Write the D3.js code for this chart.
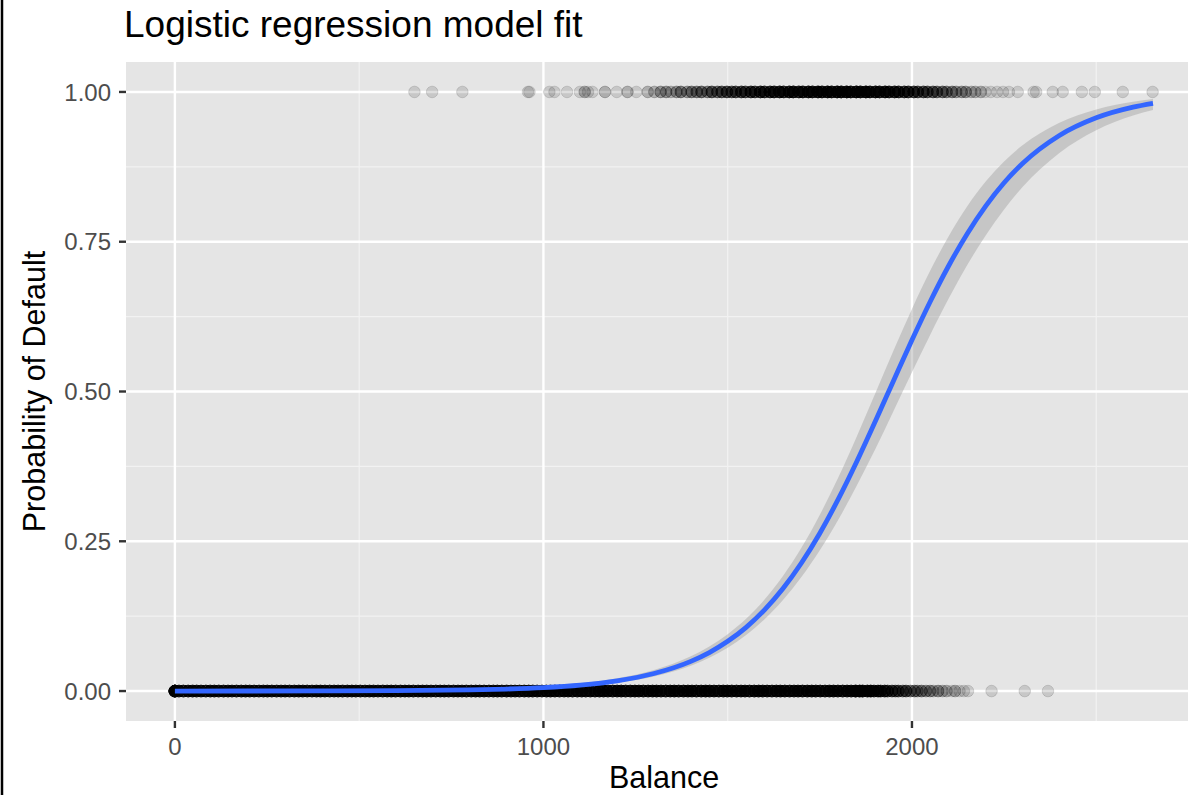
<!DOCTYPE html>
<html>
<head>
<meta charset="utf-8">
<script src="https://cdn.jsdelivr.net/npm/d3@7"></script>
<style>
  html, body { margin: 0; padding: 0; background: #fff; }
  svg { display: block; font-family: "Liberation Sans", Arial, Helvetica, sans-serif; }
</style>
</head>
<body>
<svg id="chart" width="1188" height="795"></svg>
<script>
// Observed balances of customers who defaulted (y = 1) and how many share each value
const defaultBalance = [650, 698, 780, 958, 962, 1016, 1030, 1064, 1099, 1112, 1121, 1133, 1167, 1199, 1228, 1252, 1283,
  1301, 1318, 1333, 1346, 1361, 1373, 1390, 1402, 1416, 1429, 1445, 1457, 1472, 1484, 1498, 1511, 1522, 1537, 1548,
  1563, 1574, 1589, 1600, 1615, 1626, 1641, 1652, 1667, 1678, 1693, 1704, 1719, 1730, 1745, 1756, 1771, 1782, 1797,
  1808, 1823, 1834, 1849, 1860, 1875, 1886, 1901, 1912, 1927, 1938, 1953, 1964, 1979, 1990, 2005, 2016, 2031, 2042,
  2057, 2068, 2083, 2094, 2109, 2120, 2135, 2146, 2161, 2172, 2187, 2199, 2214, 2231, 2247, 2263, 2287, 2330, 2337,
  2382, 2409, 2461, 2496, 2572, 2653];
const defaultCount = [1, 1, 1, 1, 1, 1, 1, 1, 1, 2, 1, 1, 2, 1, 2, 1, 2,
  2, 3, 3, 2, 3, 4, 3, 4, 4, 5, 4, 6, 5, 6, 7, 6, 7, 8, 7,
  9, 8, 10, 9, 10, 11, 12, 10, 12, 13, 11, 12, 13, 12, 14, 13, 14, 13, 15,
  14, 15, 13, 15, 14, 15, 13, 13, 12, 13, 11, 11, 10, 9, 9, 8, 7, 7, 6,
  6, 5, 5, 4, 4, 3, 3, 3, 2, 2, 2, 1, 1, 1, 1, 1, 1, 1, 1,
  1, 1, 1, 1, 1, 1];

// Observed balances of customers who did not default (y = 0) and their counts
const nonDefaultBalance = [0, 11, 23, 36, 48, 59, 71, 84, 96, 107, 119, 132, 144, 155, 167, 180, 192, 203, 215, 228,
  240, 251, 263, 276, 288, 299, 311, 324, 336, 347, 359, 372, 384, 395, 407, 420, 432, 443, 455, 468, 480, 491, 503,
  516, 528, 539, 551, 564, 576, 587, 599, 612, 624, 635, 647, 660, 672, 683, 695, 708, 720, 731, 743, 756, 768, 779,
  791, 804, 816, 827, 839, 852, 864, 875, 887, 900, 912, 923, 935, 948, 960, 971, 983, 996, 1008, 1019, 1031, 1044,
  1056, 1067, 1079, 1092, 1104, 1115, 1127, 1140, 1152, 1163, 1175, 1188, 1200, 1211, 1223, 1236, 1248, 1259, 1271,
  1284, 1296, 1307, 1319, 1332, 1344, 1355, 1367, 1380, 1392, 1403, 1415, 1428, 1440, 1451, 1463, 1476, 1488, 1499,
  1511, 1524, 1536, 1547, 1559, 1572, 1584, 1595, 1607, 1620, 1632, 1643, 1655, 1668, 1680, 1691, 1703, 1716, 1728,
  1739, 1751, 1764, 1776, 1787, 1799, 1812, 1824, 1835, 1847, 1858, 1866, 1879, 1888, 1897, 1908, 1915, 1926, 1934,
  1946, 1955, 1963, 1975, 1984, 1996, 2007, 2015, 2026, 2038, 2049, 2058, 2071, 2083, 2094, 2108, 2117, 2129, 2141,
  2152, 2216, 2306, 2369, 2388];
const nonDefaultCount = [40, 12, 12, 12, 12, 12, 12, 12, 12, 12, 12, 12, 12, 12, 12, 12, 12, 12, 12, 12,
  12, 12, 12, 12, 12, 12, 12, 12, 12, 12, 12, 12, 12, 12, 12, 12, 12, 12, 12, 12, 12, 12, 12,
  12, 12, 12, 12, 12, 12, 12, 12, 12, 12, 12, 12, 12, 12, 12, 12, 12, 12, 12, 12, 12, 12, 12,
  12, 12, 12, 12, 12, 12, 12, 12, 12, 12, 12, 12, 12, 12, 12, 12, 12, 12, 12, 12, 12, 12,
  12, 12, 12, 12, 12, 12, 12, 12, 12, 12, 12, 12, 12, 12, 12, 12, 12, 12, 12,
  12, 12, 12, 12, 12, 12, 12, 12, 12, 12, 12, 12, 12, 12, 12, 12, 12, 12, 12,
  12, 12, 12, 12, 12, 12, 12, 12, 12, 12, 12, 12, 12, 12, 12, 12, 12, 12, 12,
  12, 12, 12, 12, 12, 12, 12, 12, 12, 16, 14, 14, 12, 12, 10, 10, 8, 9,
  7, 7, 5, 6, 5, 6, 4, 4, 3, 4, 3, 3, 2, 3, 2, 2, 1, 2, 1,
  1, 1, 1, 1, 1];

// Fitted logistic curve with its 95% confidence band
const curveBalance = [0, 200, 400, 600, 800, 900, 1000, 1100, 1200, 1300, 1400, 1450, 1500, 1550, 1600, 1650, 1700,
  1750, 1800, 1850, 1900, 1950, 2000, 2050, 2100, 2150, 2200, 2250, 2300, 2400, 2500, 2600, 2654];
const fitProb = [0.000024, 0.000071, 0.000213, 0.00064, 0.00192, 0.00333, 0.00576, 0.00993, 0.01709, 0.02926, 0.0496,
  0.0643, 0.0830, 0.1064, 0.1356, 0.1711, 0.2137, 0.2635, 0.3202, 0.3827, 0.4494, 0.5180, 0.5859, 0.6507, 0.7103,
  0.7635, 0.8095, 0.8484, 0.8805, 0.9273, 0.9568, 0.9746, 0.9810];
const lowerProb = [0.000012, 0.000038, 0.000124, 0.000406, 0.00132, 0.00238, 0.00428, 0.00767, 0.01369, 0.02425,
  0.04231, 0.0555, 0.0723, 0.0936, 0.1199, 0.1520, 0.1903, 0.2349, 0.2859, 0.3427, 0.4031, 0.4673, 0.5320, 0.5953,
  0.6555, 0.7110, 0.7606, 0.8040, 0.8413, 0.8982, 0.9362, 0.9607, 0.9699];
const upperProb = [0.000048, 0.000133, 0.000366, 0.00101, 0.00280, 0.00465, 0.00774, 0.01284, 0.02132, 0.03527,
  0.05805, 0.0743, 0.0950, 0.1207, 0.1528, 0.1921, 0.2390, 0.2943, 0.3564, 0.4246, 0.4963, 0.5683, 0.6378, 0.7022,
  0.7597, 0.8091, 0.8504, 0.8841, 0.9110, 0.9486, 0.9709, 0.9836, 0.9881];

// Axis breaks
const xTicks = [0, 1000, 2000];
const xMinor = [500, 1500, 2500];
const yTicks = [0, 0.25, 0.5, 0.75, 1];
const yMinor = [0.125, 0.375, 0.625, 0.875];
const yTickLabels = ["0.00", "0.25", "0.50", "0.75", "1.00"];

const svg = d3.select("#chart");
const W = 1188, H = 795;
const panel = { left: 126, top: 62, right: 1202, bottom: 721 };

const x = d3.scaleLinear().domain([-132.7, 2787]).range([panel.left, panel.right]);
const y = d3.scaleLinear().domain([-0.05, 1.05]).range([panel.bottom, panel.top]);

svg.append("rect").attr("width", W).attr("height", H).attr("fill", "#ffffff");

svg.append("clipPath").attr("id", "panelClip").append("rect")
  .attr("x", panel.left).attr("y", panel.top)
  .attr("width", panel.right - panel.left).attr("height", panel.bottom - panel.top);

const plot = svg.append("g").attr("clip-path", "url(#panelClip)");

// panel background
plot.append("rect")
  .attr("x", panel.left).attr("y", panel.top)
  .attr("width", panel.right - panel.left).attr("height", panel.bottom - panel.top)
  .attr("fill", "#e5e5e5");

// minor grid
plot.selectAll(".xminor").data(xMinor).join("line")
  .attr("x1", d => x(d)).attr("x2", d => x(d)).attr("y1", panel.top).attr("y2", panel.bottom)
  .attr("stroke", "#f2f2f2").attr("stroke-width", 1.2);
plot.selectAll(".yminor").data(yMinor).join("line")
  .attr("y1", d => y(d)).attr("y2", d => y(d)).attr("x1", panel.left).attr("x2", panel.right)
  .attr("stroke", "#f2f2f2").attr("stroke-width", 1.2);
// major grid
plot.selectAll(".xmajor").data(xTicks).join("line")
  .attr("x1", d => x(d)).attr("x2", d => x(d)).attr("y1", panel.top).attr("y2", panel.bottom)
  .attr("stroke", "#ffffff").attr("stroke-width", 2.4);
plot.selectAll(".ymajor").data(yTicks).join("line")
  .attr("y1", d => y(d)).attr("y2", d => y(d)).attr("x1", panel.left).attr("x2", panel.right)
  .attr("stroke", "#ffffff").attr("stroke-width", 2.4);

// points: each observed balance repeated by its count
const expand = (vals, counts, cls) => vals.flatMap((b, i) => d3.range(counts[i]).map(() => ({ b, cls })));
const points = expand(nonDefaultBalance, nonDefaultCount, 0).concat(expand(defaultBalance, defaultCount, 1));

plot.append("g").selectAll("circle").data(points).join("circle")
  .attr("cx", d => x(d.b)).attr("cy", d => y(d.cls)).attr("r", 5.8)
  .attr("fill", "#000").attr("fill-opacity", 0.13)
  .attr("stroke", "#000").attr("stroke-opacity", 0.13).attr("stroke-width", 1);

// confidence ribbon
const band = curveBalance.map((b, i) => ({ b, lo: lowerProb[i], hi: upperProb[i], p: fitProb[i] }));
plot.append("path").datum(band)
  .attr("d", d3.area().x(d => x(d.b)).y0(d => y(d.lo)).y1(d => y(d.hi)).curve(d3.curveMonotoneX))
  .attr("fill", "#999999").attr("fill-opacity", 0.4);

// fitted curve
plot.append("path").datum(band)
  .attr("d", d3.line().x(d => x(d.b)).y(d => y(d.p)).curve(d3.curveMonotoneX))
  .attr("fill", "none").attr("stroke", "#3366ff").attr("stroke-width", 4.8);

// axes ticks and labels
const axisG = svg.append("g");
axisG.selectAll(".ytick").data(yTicks).join("line")
  .attr("x1", panel.left - 7).attr("x2", panel.left).attr("y1", d => y(d)).attr("y2", d => y(d))
  .attr("stroke", "#333333").attr("stroke-width", 2.4);
axisG.selectAll(".ylab").data(yTicks).join("text")
  .attr("x", panel.left - 15).attr("y", d => y(d)).attr("dy", "0.36em")
  .attr("text-anchor", "end").attr("fill", "#4d4d4d").attr("font-size", 24)
  .text((d, i) => yTickLabels[i]);

axisG.selectAll(".xtick").data(xTicks).join("line")
  .attr("x1", d => x(d)).attr("x2", d => x(d)).attr("y1", panel.bottom).attr("y2", panel.bottom + 7)
  .attr("stroke", "#333333").attr("stroke-width", 2.4);
axisG.selectAll(".xlab").data(xTicks).join("text")
  .attr("x", d => x(d)).attr("y", panel.bottom + 33.5)
  .attr("text-anchor", "middle").attr("fill", "#4d4d4d").attr("font-size", 24)
  .text(d => d);

// axis titles
svg.append("text")
  .attr("x", (panel.left + panel.right) / 2).attr("y", 788)
  .attr("text-anchor", "middle").attr("fill", "#000").attr("font-size", 30.5)
  .text("Balance");
svg.append("text")
  .attr("transform", `translate(45, ${(panel.top + panel.bottom) / 2}) rotate(-90)`)
  .attr("text-anchor", "middle").attr("fill", "#000").attr("font-size", 30.5)
  .text("Probability of Default");

// title
svg.append("text")
  .attr("x", 124).attr("y", 37)
  .attr("fill", "#000").attr("font-size", 37)
  .text("Logistic regression model fit");

// outer frame edge
svg.append("line").attr("x1", 2).attr("x2", 2).attr("y1", 0).attr("y2", H)
  .attr("stroke", "#000").attr("stroke-width", 2.5);
</script>
</body>
</html>
